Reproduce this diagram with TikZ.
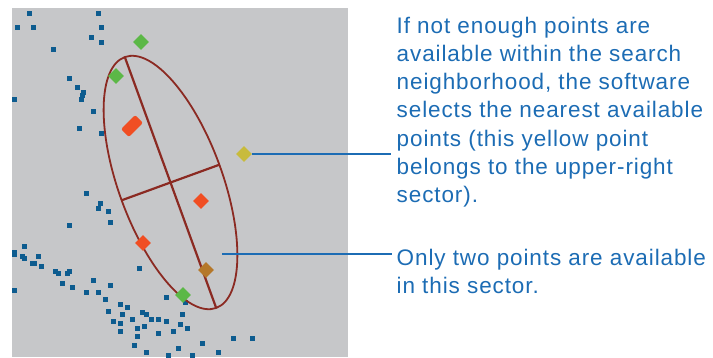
\documentclass[tikz,border=0pt]{standalone}
\usepackage{fontspec}
\setmainfont{Liberation Sans}
\usetikzlibrary{shapes.geometric}
\definecolor{bggray}{HTML}{C6C7C9}
\definecolor{dotblue}{HTML}{0D5C8F}
\definecolor{ellred}{HTML}{8B2A22}
\definecolor{ptgreen}{HTML}{5CB847}
\definecolor{ptorange}{HTML}{F04E23}
\definecolor{ptbrown}{HTML}{B5782A}
\definecolor{ptyellow}{HTML}{C8BB3C}
\definecolor{txtblue}{HTML}{1C6CB4}
\tikzset{
  dot/.style={rectangle, fill=dotblue, minimum size=5pt, inner sep=0pt},
  diam/.style={diamond, fill=#1, minimum size=16pt, inner sep=0pt},
  axisline/.style={draw=ellred, line width=2.2pt},
  conn/.style={draw=txtblue, line width=2pt},
  note/.style={anchor=base west, inner sep=0pt, align=left, text=txtblue,
    font=\fontsize{22.5pt}{28.2pt}\selectfont\addfontfeatures{LetterSpace=4}},
}
\begin{document}
\begin{tikzpicture}[x=1pt,y=-1pt]
\useasboundingbox (0,0) rectangle (713,357);
\fill[bggray] (12,8) rectangle (348,357);
% blue data points
\foreach \px/\py [count=\i] in {29/13,98/13,17/27,33/27,101/27,91/37,101/42,53/49,69/78,77/87,
  83/92,82/95,81/99,14/99,93/111,79/128,101/133,86/193,100/203,98/208,108/211,110/222,69/225,
  24/246,14/252,14/254,22/256,24/258,38/256,32/263,34/263,41/266,55/271,58/273,67/273,69/271,
  139/268,62/283,72/287,14/290,86/292,93/280,98/292,110/285,105/299,120/304,127/307,108/311,
  122/314,113/321,120/323,120/331,166/297,142/312,146/314,132/319,151/319,158/319,166/321,
  182/314,137/328,144/326,180/324,187/328,173/331,158/333,137/336,202/343,233/338,252/338,
  134/345,178/348,146/352,168/355,192/355,218/352,185/302}
  \node[dot] (d\i) at (\px,\py) {};
% search ellipse
\coordinate (ctr) at (170.5,182.5);
\draw[ellred, line width=1.8pt, rotate around={110:(ctr)}] (ctr) ellipse [x radius=133.5pt, y radius=52pt];
\coordinate (majA) at (124.8,57);
\coordinate (majB) at (216.2,308);
\coordinate (minA) at (121.6,200.3);
\coordinate (minB) at (219.4,164.7);
\draw[axisline] (majA) -- (majB);
\draw[axisline] (minA) -- (minB);
% selected points
\node[diam=ptgreen] (g1) at (141,42) {};
\node[diam=ptgreen] (g2) at (116,76) {};
\node[diam=ptgreen] (g3) at (183,295) {};
\node[rectangle, fill=ptorange, minimum width=20pt, minimum height=11pt, inner sep=0pt,
  rounded corners=2pt, rotate=45] (o1) at (132,126) {};
\node[diam=ptorange] (o2) at (201,201) {};
\node[diam=ptorange] (o3) at (143,243) {};
\node[diam=ptbrown] (b1) at (206,270) {};
\node[diam=ptyellow] (yel) at (244,154) {};
% annotations
\node[note] (t1) at (396.5,202.5) {If not enough points are\\available within the search\\neighborhood, the software\\selects the nearest available\\points (this yellow point\\belongs to the upper-right\\sector).};
\node[note] (t2) at (396.5,293.3) {Only two points are available\\in this sector.};
\coordinate (e1) at (391,154);
\coordinate (s2) at (222,254);
\coordinate (e2) at (392,254);
\draw[conn] (yel.east) -- (e1);
\draw[conn] (s2) -- (e2);
\end{tikzpicture}
\end{document}
